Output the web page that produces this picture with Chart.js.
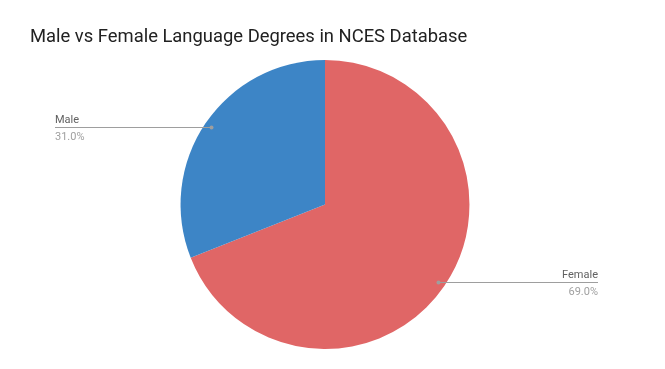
<!DOCTYPE html>
<html>
<head>
<meta charset="utf-8">
<script src="https://cdn.jsdelivr.net/npm/chart.js@4.4.0/dist/chart.umd.min.js"></script>
<style>
html,body{margin:0;padding:0;background:#fff;}
#wrap{width:665px;height:369px;}
</style>
</head>
<body>
<div id="wrap"><canvas id="c" width="665" height="369"></canvas></div>
<script>
const categories = ["Female", "Male"];
const values = [69.0, 31.0];
const colors = ["#e06666", "#3d85c6"];
const titleText = "Male vs Female Language Degrees in NCES Database";

const leaderPlugin = {
  id: 'leaders',
  afterDatasetsDraw(chart) {
    const ctx = chart.ctx;
    const meta = chart.getDatasetMeta(0);
    const total = values.reduce((a, b) => a + b, 0);
    meta.data.forEach((arc, i) => {
      const mid = (arc.startAngle + arc.endAngle) / 2;
      const r = arc.outerRadius * 0.95;
      const px = arc.x + Math.cos(mid) * r;
      const py = arc.y + Math.sin(mid) * r;
      const right = Math.cos(mid) > 0;
      const endX = right ? 598 : 55;
      ctx.save();
      ctx.strokeStyle = '#9e9e9e';
      ctx.lineWidth = 1;
      ctx.beginPath();
      ctx.moveTo(px, Math.round(py) + 0.5);
      ctx.lineTo(endX, Math.round(py) + 0.5);
      ctx.stroke();
      ctx.fillStyle = '#9e9e9e';
      ctx.beginPath();
      ctx.arc(px, Math.round(py) + 0.5, 2, 0, Math.PI * 2);
      ctx.fill();
      ctx.font = '11px Roboto';
      ctx.textAlign = right ? 'right' : 'left';
      ctx.textBaseline = 'alphabetic';
      ctx.fillStyle = '#616161';
      ctx.fillText(categories[i], endX, Math.round(py) - 4);
      ctx.fillStyle = '#a0a0a0';
      ctx.fillText((values[i] / total * 100).toFixed(1) + '%', endX, Math.round(py) + 13);
      ctx.restore();
    });
  }
};

new Chart(document.getElementById('c'), {
  type: 'pie',
  data: {
    labels: categories,
    datasets: [{
      data: values,
      backgroundColor: colors,
      borderWidth: 0
    }]
  },
  options: {
    responsive: false,
    animation: false,
    layout: { padding: { left: 30, right: 45, top: 0, bottom: 20 } },
    plugins: {
      legend: { display: false },
      tooltip: { enabled: false },
      title: {
        display: true,
        text: titleText,
        align: 'start',
        color: '#212121',
        font: { family: 'Roboto', size: 18.4, weight: 'normal', lineHeight: 1.2 },
        padding: { top: 26, bottom: 12 }
      }
    }
  },
  plugins: [leaderPlugin]
});
</script>
</body>
</html>
